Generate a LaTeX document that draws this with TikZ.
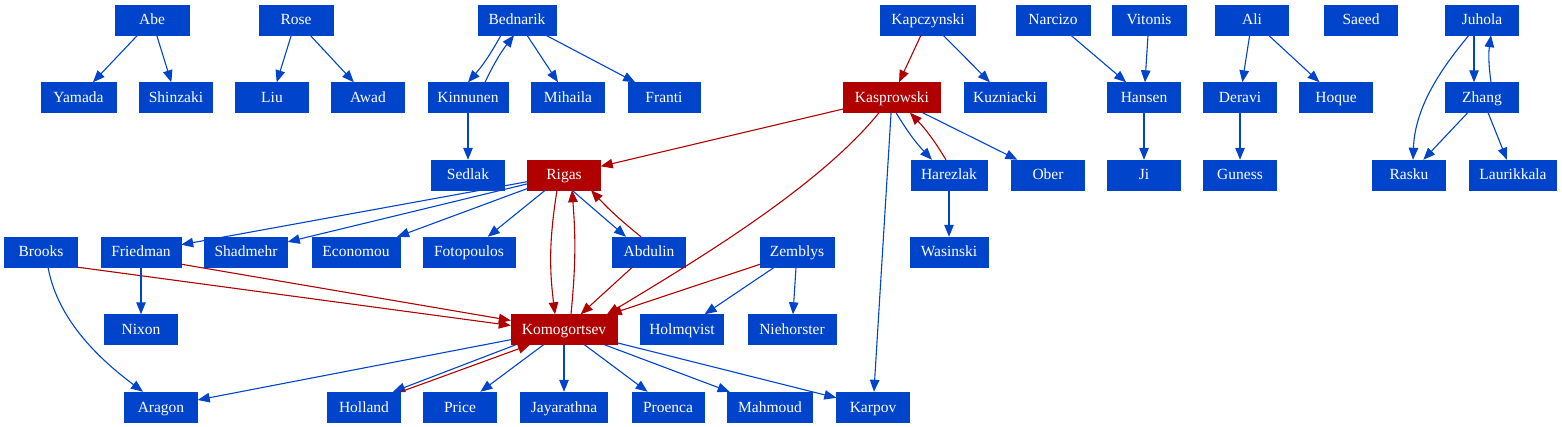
\documentclass[tikz,border=0pt]{standalone}
\usepackage{fontspec}
\setmainfont{Liberation Serif}
\usetikzlibrary{arrows.meta}
\definecolor{gblue}{RGB}{0,68,204}
\definecolor{gred}{RGB}{176,0,0}
\tikzset{
  nd/.style={rectangle, minimum height=30pt, inner sep=0pt, text height=12pt, text depth=2pt, text=white, font=\fontsize{15.5}{18}\selectfont},
  bn/.style={nd, fill=gblue, draw=gblue},
  rn/.style={nd, fill=gred, draw=gred},
  be/.style={draw=gblue, line width=1.1pt, -{Triangle[length=12pt,width=9.5pt]}},
  re/.style={draw=gred, line width=1.1pt, -{Triangle[length=12pt,width=9.5pt]}},
}
\begin{document}
\begin{tikzpicture}[x=1pt,y=-1pt]
\useasboundingbox (0,0) rectangle (1562,427);
% row 1
\node[bn, minimum width=74pt] (abe) at (152,20) {Abe};
\node[bn, minimum width=74pt] (rose) at (296,20) {Rose};
\node[bn, minimum width=78pt] (bednarik) at (517,20) {Bednarik};
\node[bn, minimum width=95pt] (kapczynski) at (928,20) {Kapczynski};
\node[bn, minimum width=74pt] (narcizo) at (1053,20) {Narcizo};
\node[bn, minimum width=74pt] (vitonis) at (1149,20) {Vitonis};
\node[bn, minimum width=73pt] (ali) at (1252,20) {Ali};
\node[bn, minimum width=73pt] (saeed) at (1361,20) {Saeed};
\node[bn, minimum width=73pt] (juhola) at (1482,20) {Juhola};
% row 2
\node[bn, minimum width=75pt] (yamada) at (78.5,97.5) {Yamada};
\node[bn, minimum width=73pt] (shinzaki) at (176,97.5) {Shinzaki};
\node[bn, minimum width=73pt] (liu) at (272,97.5) {Liu};
\node[bn, minimum width=73pt] (awad) at (368,97.5) {Awad};
\node[bn, minimum width=80pt] (kinnunen) at (468,97.5) {Kinnunen};
\node[bn, minimum width=73pt] (mihaila) at (568,97.5) {Mihaila};
\node[bn, minimum width=72pt] (franti) at (664,97.5) {Franti};
\node[rn, minimum width=97pt] (kasprowski) at (892,97.5) {Kasprowski};
\node[bn, minimum width=82pt] (kuzniacki) at (1005,97.5) {Kuzniacki};
\node[bn, minimum width=73pt] (hansen) at (1144,97.5) {Hansen};
\node[bn, minimum width=73pt] (deravi) at (1240,97.5) {Deravi};
\node[bn, minimum width=73pt] (hoque) at (1336,97.5) {Hoque};
\node[bn, minimum width=73pt] (zhang) at (1482,97.5) {Zhang};
% row 3
\node[bn, minimum width=73pt] (sedlak) at (468,175) {Sedlak};
\node[rn, minimum width=73pt] (rigas) at (564,175) {Rigas};
\node[bn, minimum width=76pt] (harezlak) at (949,175) {Harezlak};
\node[bn, minimum width=73pt] (ober) at (1048,175) {Ober};
\node[bn, minimum width=73pt] (ji) at (1144,175) {Ji};
\node[bn, minimum width=73pt] (guness) at (1240,175) {Guness};
\node[bn, minimum width=73pt] (rasku) at (1409,175) {Rasku};
\node[bn, minimum width=87pt] (laurikkala) at (1513,175) {Laurikkala};
% row 4
\node[bn, minimum width=73pt] (brooks) at (41,252) {Brooks};
\node[bn, minimum width=80pt] (friedman) at (141,252) {Friedman};
\node[bn, minimum width=83pt] (shadmehr) at (246,252) {Shadmehr};
\node[bn, minimum width=88pt] (economou) at (356,252) {Economou};
\node[bn, minimum width=92pt] (fotopoulos) at (469,252) {Fotopoulos};
\node[bn, minimum width=73pt] (abdulin) at (649,252) {Abdulin};
\node[bn, minimum width=74pt] (zemblys) at (797,252) {Zemblys};
\node[bn, minimum width=78pt] (wasinski) at (949,252) {Wasinski};
% row 5
\node[bn, minimum width=73pt] (nixon) at (141,329.5) {Nixon};
\node[rn, minimum width=106pt] (komo) at (564,329.5) {Komogortsev};
\node[bn, minimum width=83pt] (holmqvist) at (682,329.5) {Holmqvist};
\node[bn, minimum width=88pt] (niehorster) at (792,329.5) {Niehorster};
% row 6
\node[bn, minimum width=73pt] (aragon) at (161,407) {Aragon};
\node[bn, minimum width=73pt] (holland) at (364,407) {Holland};
\node[bn, minimum width=73pt] (price) at (460,407) {Price};
\node[bn, minimum width=87pt] (jayarathna) at (564,407) {Jayarathna};
\node[bn, minimum width=72pt] (proenca) at (668,407) {Proenca};
\node[bn, minimum width=85pt] (mahmoud) at (770,407) {Mahmoud};
\node[bn, minimum width=73pt] (karpov) at (873,407) {Karpov};
% edges: small clusters
\draw[be] (abe) -- (yamada);
\draw[be] (abe) -- (shinzaki);
\draw[be] (rose) -- (liu);
\draw[be] (rose) -- (awad);
\draw[be] ([xshift=-16pt]bednarik.south) to[bend left=6] (kinnunen.north);
\draw[be] ([xshift=17pt]kinnunen.north) to[bend left=6] ([xshift=-3pt]bednarik.south);
\draw[be] (bednarik) -- (mihaila);
\draw[be] (bednarik) -- (franti);
\draw[be] (kinnunen) -- (sedlak);
\draw[re] (kapczynski) -- (kasprowski);
\draw[be] (kapczynski) -- (kuzniacki);
\draw[be] (narcizo) -- (hansen);
\draw[be] (vitonis) -- (hansen);
\draw[be] (hansen) -- (ji);
\draw[be] (ali) -- (deravi);
\draw[be] (ali) -- (hoque);
\draw[be] (deravi) -- (guness);
\draw[be] ([xshift=-8pt]juhola.south) -- ([xshift=-8pt]zhang.north);
\draw[be] ([xshift=9pt]zhang.north) to[bend left=8] ([xshift=9pt]juhola.south);
\draw[be] ([xshift=-13pt]juhola.south) .. controls +(-25,30) and +(2,-55) .. ([xshift=4pt]rasku.north);
\draw[be] (zhang) -- (rasku);
\draw[be] (zhang) -- (laurikkala);
% Kasprowski
\draw[re] (kasprowski) -- (rigas);
\draw[re] ([xshift=-13pt]kasprowski.south) .. controls +(-59,73) and +(93,-56) .. ([xshift=43pt]komo.north);
\draw[be] (kasprowski) -- (karpov);
\draw[be] ([xshift=4pt]kasprowski.south) to[bend right=6] ([xshift=-17pt]harezlak.north);
\draw[re] ([xshift=-3pt]harezlak.north) to[bend right=6] ([xshift=18pt]kasprowski.south);
\draw[be] (kasprowski) -- (ober);
\draw[be] (harezlak) -- (wasinski);
% Rigas
\draw[be] (rigas) -- (friedman);
\draw[be] (rigas) -- (shadmehr);
\draw[be] (rigas) -- (economou);
\draw[be] (rigas) -- (fotopoulos);
\draw[be] ([xshift=8pt]rigas.south) -- ([xshift=-23pt]abdulin.north);
\draw[re] ([xshift=-8pt]abdulin.north) to[bend left=4] ([xshift=27pt]rigas.south);
\draw[re] ([xshift=-7pt]rigas.south) to[bend right=8] ([xshift=-9pt]komo.north);
\draw[re] ([xshift=7pt]komo.north) to[bend right=5] ([xshift=8pt]rigas.south);
\draw[re] (abdulin) -- (komo);
% into Komogortsev
\draw[re] (brooks.south east) -- ([yshift=4pt]komo.west);
\draw[re] ([yshift=3pt]friedman.south east) -- ([yshift=9pt]komo.west);
\draw[re] (zemblys) -- (komo);
\draw[be] (zemblys) -- (holmqvist);
\draw[be] (zemblys) -- (niehorster);
\draw[be] (friedman) -- (nixon);
\draw[be] ([xshift=7pt]brooks.south) .. controls +(10,55) and +(-40,-30) .. ([xshift=-18pt]aragon.north);
% out of Komogortsev
\draw[be] (komo) -- (aragon);
\draw[be] ([xshift=-48pt]komo.south) -- ([xshift=29pt]holland.north);
\draw[re] (holland.north east) -- ([xshift=-34pt]komo.south);
\draw[be] (komo) -- (price);
\draw[be] (komo) -- (jayarathna);
\draw[be] (komo) -- (proenca);
\draw[be] (komo) -- (mahmoud);
\draw[be] (komo) -- (karpov);
\end{tikzpicture}
\end{document}
